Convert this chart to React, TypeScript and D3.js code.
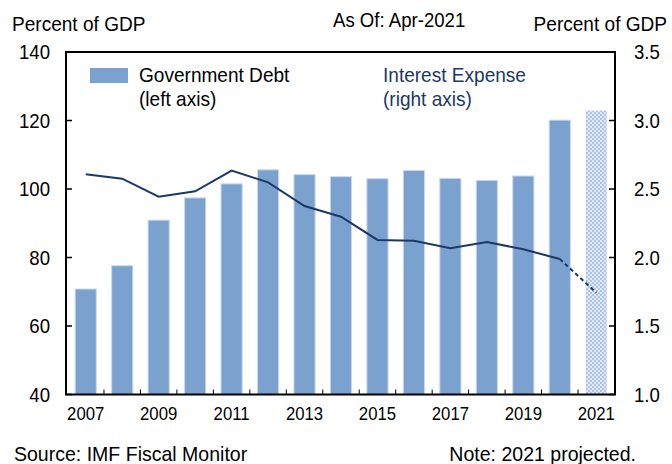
import React from "react";
import * as d3 from "d3";

const years = ["2007","2008","2009","2010","2011","2012","2013","2014","2015","2016","2017","2018","2019","2020","2021"];
const debt = [70.8, 77.6, 90.9, 97.4, 101.5, 105.6, 104.2, 103.6, 103.0, 105.4, 103.1, 102.5, 103.8, 120.1, 122.9];
const interest = [2.607, 2.575, 2.444, 2.483, 2.634, 2.549, 2.376, 2.298, 2.128, 2.123, 2.067, 2.113, 2.06, 1.989, 1.743];
const leftTicks = [40, 60, 80, 100, 120, 140];
const rightTicks = [1.0, 1.5, 2.0, 2.5, 3.0, 3.5];
const yearLabels = ["2007","2009","2011","2013","2015","2017","2019","2021"];
const projectedYear = "2021";

const W = 672, H = 464;
const L = 66, R = 615, T = 52, B = 394.5;
const FONT = "'Liberation Sans', Arial, sans-serif";
const BAR = "#7ba2cf";
const NAVY = "#1c3866";

// condensed-looking text: taller glyphs, slightly narrowed
const Txt = (p: { x: number; y: number; size: number; anchor?: string; fill?: string; children: React.ReactNode; sx?: number; dy?: string }) => {
  const sx = p.sx ?? 0.93;
  return (
    <text transform={`translate(${p.x},${p.y}) scale(${sx},1)`} fontSize={p.size} textAnchor={p.anchor ?? "start"} fill={p.fill ?? "#000"} dy={p.dy}>
      {p.children}
    </text>
  );
};

export default function App() {
  const x = d3.scaleBand<string>().domain(years).range([67.5, 614.5]).paddingInner(0.42).paddingOuter(0.21);
  const yL = d3.scaleLinear().domain([40, 140]).range([B, T]);
  const yR = d3.scaleLinear().domain([1.0, 3.5]).range([B, T]);
  const cx = (y: string) => (x(y) as number) + x.bandwidth() / 2;
  const step = x.step();
  const pts: [number, number][] = years.map((y, i) => [cx(y), yR(interest[i])]);
  const line = d3.line();
  const solid = line(pts.slice(0, years.length - 1)) as string;
  const dashed = line(pts.slice(years.length - 2)) as string;

  return (
    <svg width={W} height={H} style={{ position: "absolute", left: 0, top: 0, fontFamily: FONT }}>
      <defs>
        <pattern id="dots" width="4" height="4" patternUnits="userSpaceOnUse">
          <rect width="4" height="4" fill="#aec5e3" />
          <rect x="0" y="0" width="2" height="2" fill="#dfe8f4" />
          <rect x="2" y="2" width="2" height="2" fill="#dfe8f4" />
        </pattern>
      </defs>
      <rect width={W} height={H} fill="#fff" />
      <Txt x={12} y={31} size={20.5}>Percent of GDP</Txt>
      <Txt x={333} y={27} size={20}>As Of: Apr-2021</Txt>
      <Txt x={667} y={31} size={20.5} anchor="end">Percent of GDP</Txt>

      {years.map((y, i) => (
        <rect key={y} x={x(y)} y={yL(debt[i])} width={x.bandwidth()} height={B - yL(debt[i])}
          fill={y === projectedYear ? "url(#dots)" : BAR} stroke={y === projectedYear ? "none" : "#c9d8ec"} strokeWidth={1} />
      ))}

      <path d={solid} fill="none" stroke={NAVY} strokeWidth={2} />
      <path d={dashed} fill="none" stroke={NAVY} strokeWidth={2} strokeDasharray="4,3" />

      <path d={`M${L},${T}H${R}V${B}H${L}Z`} fill="none" stroke="#000" strokeWidth={2} />
      {leftTicks.map(t => (
        <g key={t}>
          <line x1={L} x2={L + 6} y1={yL(t)} y2={yL(t)} stroke="#000" strokeWidth={1.5} />
          <Txt x={50} y={yL(t)} dy="0.36em" size={20} anchor="end">{t}</Txt>
        </g>
      ))}
      {rightTicks.map(t => (
        <g key={t}>
          <line x1={R - 6} x2={R} y1={yR(t)} y2={yR(t)} stroke="#000" strokeWidth={1.5} />
          <Txt x={634} y={yR(t)} dy="0.36em" size={20}>{t.toFixed(1)}</Txt>
        </g>
      ))}
      {years.slice(1).map(y => {
        const bx = (x(y) as number) - (step - x.bandwidth()) / 2;
        return <line key={y} x1={bx} x2={bx} y1={B} y2={B - 5} stroke="#000" strokeWidth={1} />;
      })}
      {yearLabels.map(y => (
        <Txt key={y} x={cx(y)} y={420} size={18} anchor="middle">{y}</Txt>
      ))}

      <rect x={90} y={68} width={38} height={15} fill={BAR} />
      <Txt x={139} y={82} size={20.5}>Government Debt</Txt>
      <Txt x={139} y={106} size={20.5}>(left axis)</Txt>
      <Txt x={383} y={82} size={20.5} fill={NAVY}>Interest Expense</Txt>
      <Txt x={383} y={106} size={20.5} fill={NAVY}>(right axis)</Txt>

      <Txt x={14} y={461} size={21}>Source: IMF Fiscal Monitor</Txt>
      <Txt x={636} y={461} size={21} anchor="end">Note: 2021 projected.</Txt>
    </svg>
  );
}
